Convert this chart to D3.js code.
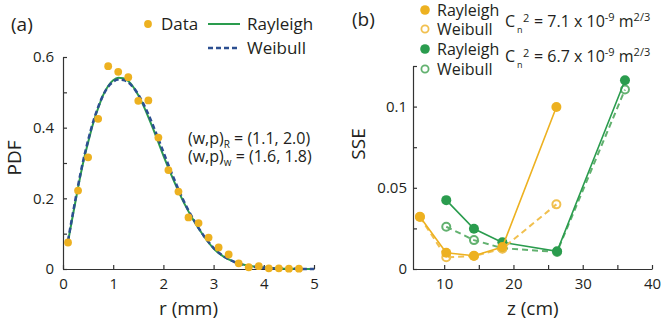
<!DOCTYPE html>
<html>
<head>
<meta charset="utf-8">
<script src="https://cdn.jsdelivr.net/npm/d3@7"></script>
<style>
  body { margin: 0; background: #fff; }
  svg text { font-family: "Open Sans", sans-serif; fill: #231f20; }
</style>
</head>
<body>
<div id="chart"></div>
<script>
// Panel (a): measured PDF and the two fits
const rData = [0.1, 0.3, 0.5, 0.7, 0.9, 1.1, 1.3, 1.5, 1.7, 1.9, 2.1, 2.3, 2.5, 2.7, 2.9, 3.1, 3.3, 3.5, 3.7, 3.9, 4.1, 4.3, 4.5, 4.7];
const pdfData = [0.075, 0.222, 0.316, 0.425, 0.574, 0.558, 0.543, 0.476, 0.477, 0.372, 0.280, 0.219, 0.146, 0.130, 0.089, 0.061, 0.041, 0.016, 0.005, 0.008, 0.002, 0.002, 0.001, 0.001];

const rFit = [0.1, 0.2, 0.3, 0.4, 0.5, 0.6, 0.7, 0.8, 0.9, 1.0, 1.1, 1.2, 1.3, 1.4, 1.5, 1.6, 1.7, 1.8, 1.9, 2.0, 2.2, 2.4, 2.6, 2.8, 3.0, 3.2, 3.4, 3.6, 3.8, 4.0, 4.3, 4.6, 5.0];
const rayleighFit = [0.077, 0.155, 0.230, 0.300, 0.358, 0.412, 0.455, 0.492, 0.518, 0.534, 0.541, 0.540, 0.532, 0.515, 0.492, 0.463, 0.430, 0.395, 0.358, 0.321, 0.252, 0.190, 0.138, 0.094, 0.058, 0.035, 0.021, 0.012, 0.007, 0.004, 0.0015, 0.0005, 0.0001];
const weibullFit = [0.080, 0.160, 0.236, 0.305, 0.364, 0.416, 0.458, 0.492, 0.516, 0.530, 0.536, 0.535, 0.528, 0.514, 0.494, 0.468, 0.438, 0.404, 0.368, 0.331, 0.259, 0.194, 0.140, 0.095, 0.060, 0.036, 0.021, 0.012, 0.0065, 0.0035, 0.0012, 0.0004, 0.0001];

// Panel (b): SSE vs z for two turbulence strengths
const zYellow = [6.5, 10.3, 14.3, 18.4, 26.2];
const sseYellowRayleigh = [0.0322, 0.0100, 0.0082, 0.0135, 0.0998];
const sseYellowWeibull = [0.0320, 0.0072, 0.0080, 0.0125, 0.0398];
const zGreen = [10.3, 14.3, 18.4, 26.3, 36.1];
const sseGreenRayleigh = [0.0424, 0.0248, 0.0164, 0.0109, 0.1162];
const sseGreenWeibull = [0.0260, 0.0178, 0.0128, 0.0105, 0.1105];

const yellow = "#edb120";
const yellowLight = "#f1c04f";
const green = "#2a9c4e";
const greenLight = "#62b16f";
const blue = "#2c4f91";
const axisCol = "#333";

const W = 661, H = 327;
const svg = d3.select("#chart").append("svg")
    .attr("width", W)
    .attr("height", H);

function styleAxis(g) {
    g.select(".domain").attr("stroke", axisCol).attr("stroke-width", 1.2);
    g.selectAll(".tick line").attr("stroke", axisCol).attr("stroke-width", 1.2);
    g.selectAll(".tick text").attr("font-size", 15).style("font-family", "'Open Sans', sans-serif").attr("fill", "#231f20");
}

// ##################################
// Panel (a)
// ##################################
const xA = d3.scaleLinear().domain([0, 5]).range([63, 314]);
const yA = d3.scaleLinear().domain([0, 0.6]).range([269, 57]);

svg.append("g")
    .attr("transform", `translate(${xA(0)},0)`)
    .call(d3.axisLeft(yA)
        .tickValues(d3.range(0, 0.61, 0.1))
        .tickFormat(d => (Math.round(d * 10) % 2 === 0) ? String(+d.toFixed(1)) : "")
        .tickSizeInner(-4).tickSizeOuter(0).tickPadding(9))
    .call(styleAxis);

svg.append("g")
    .attr("transform", `translate(0,${yA(0)})`)
    .call(d3.axisBottom(xA)
        .tickValues([0, 1, 2, 3, 4, 5])
        .tickFormat(d3.format("d"))
        .tickSizeInner(-4).tickSizeOuter(0).tickPadding(9))
    .call(styleAxis);

const lineA = (vals) => d3.line()
    .x((d, i) => xA(rFit[i]))
    .y(d => yA(d))
    .curve(d3.curveMonotoneX)(vals);

svg.append("path")
    .attr("d", lineA(rayleighFit))
    .attr("fill", "none")
    .attr("stroke", green)
    .attr("stroke-width", 2);

svg.append("path")
    .attr("d", lineA(weibullFit))
    .attr("fill", "none")
    .attr("stroke", blue)
    .attr("stroke-width", 2.5)
    .attr("stroke-dasharray", "5,3");

svg.append("g")
    .selectAll("circle")
    .data(rData)
    .join("circle")
        .attr("cx", d => xA(d))
        .attr("cy", (d, i) => yA(pdfData[i]))
        .attr("r", 3.9)
        .attr("fill", yellow);

svg.append("text").attr("x", 11).attr("y", 31).attr("font-size", 19).text("(a)");

svg.append("text")
    .attr("transform", "translate(21,158) rotate(-90)")
    .attr("text-anchor", "middle")
    .attr("font-size", 19)
    .text("PDF");

svg.append("text")
    .attr("x", xA(2.5)).attr("y", 315)
    .attr("text-anchor", "middle")
    .attr("font-size", 19)
    .text("r (mm)");

// legend (a)
svg.append("circle").attr("cx", 148).attr("cy", 24).attr("r", 3.9).attr("fill", yellow);
svg.append("text").attr("x", 161).attr("y", 30).attr("font-size", 17).text("Data");
svg.append("line").attr("x1", 208).attr("x2", 240).attr("y1", 24).attr("y2", 24)
    .attr("stroke", green).attr("stroke-width", 2);
svg.append("text").attr("x", 247).attr("y", 30).attr("font-size", 17).text("Rayleigh");
svg.append("line").attr("x1", 208).attr("x2", 240).attr("y1", 48).attr("y2", 48)
    .attr("stroke", blue).attr("stroke-width", 2.5).attr("stroke-dasharray", "5,3");
svg.append("text").attr("x", 247).attr("y", 54).attr("font-size", 17).text("Weibull");

// fit parameters
const annot = [["R", "(1.1, 2.0)", 144], ["w", "(1.6, 1.8)", 162]];
annot.forEach(a => {
    const t = svg.append("text").attr("x", 188).attr("y", a[2]).attr("font-size", 16);
    t.append("tspan").text("(w,p)");
    t.append("tspan").attr("dy", 4).attr("font-size", 10).text(a[0]);
    t.append("tspan").attr("dy", -4).text(" = " + a[1]);
});

// ##################################
// Panel (b)
// ##################################
const xB = d3.scaleLinear().domain([5.5, 40]).range([413, 652]);
const yB = d3.scaleLinear().domain([0, 0.125]).range([269, 66]);

svg.append("g")
    .attr("transform", `translate(${xB(5.5)},0)`)
    .call(d3.axisLeft(yB)
        .tickValues([0, 0.025, 0.05, 0.075, 0.1, 0.125])
        .tickFormat(d => ({0: "0", 0.05: "0.05", 0.1: "0.1"})[d] || "")
        .tickSizeInner(-4).tickSizeOuter(0).tickPadding(6))
    .call(styleAxis);

svg.append("g")
    .attr("transform", `translate(0,${yB(0)})`)
    .call(d3.axisBottom(xB)
        .tickValues([10, 15, 20, 25, 30, 35, 40])
        .tickFormat(d => d % 10 === 0 ? d : "")
        .tickSizeInner(-4).tickSizeOuter(0).tickPadding(9))
    .call(styleAxis);

const lineB = (zs, vals) => d3.line()
    .x((d, i) => xB(zs[i]))
    .y(d => yB(d))(vals);

const series = [
    {z: zGreen, v: sseGreenWeibull, col: greenLight, open: true},
    {z: zGreen, v: sseGreenRayleigh, col: green, open: false},
    {z: zYellow, v: sseYellowWeibull, col: yellowLight, open: true},
    {z: zYellow, v: sseYellowRayleigh, col: yellow, open: false}
];

series.forEach(s => {
    svg.append("path")
        .attr("d", lineB(s.z, s.v))
        .attr("fill", "none")
        .attr("stroke", s.col)
        .attr("stroke-width", s.open ? 2 : 1.6)
        .attr("stroke-dasharray", s.open ? "6,4" : null);
    svg.append("g")
        .selectAll("circle")
        .data(s.v)
        .join("circle")
            .attr("cx", (d, i) => xB(s.z[i]))
            .attr("cy", d => yB(d))
            .attr("r", s.open ? 4 : 5)
            .attr("fill", s.open ? "none" : s.col)
            .attr("stroke", s.col)
            .attr("stroke-width", s.open ? 2 : 0);
});

svg.append("text").attr("x", 352).attr("y", 26).attr("font-size", 19).text("(b)");

svg.append("text")
    .attr("transform", "translate(365,144) rotate(-90)")
    .attr("text-anchor", "middle")
    .attr("font-size", 19)
    .text("SSE");

svg.append("text")
    .attr("x", xB(22.5) + 2).attr("y", 315)
    .attr("text-anchor", "middle")
    .attr("font-size", 19)
    .text("z (cm)");

// legend (b)
const legB = [
    {y: 10, col: yellow, open: false, label: "Rayleigh"},
    {y: 29, col: yellowLight, open: true, label: "Weibull"},
    {y: 49, col: green, open: false, label: "Rayleigh"},
    {y: 69, col: greenLight, open: true, label: "Weibull"}
];
legB.forEach(l => {
    svg.append("circle")
        .attr("cx", 425).attr("cy", l.y)
        .attr("r", l.open ? 3.6 : 4.8)
        .attr("fill", l.open ? "none" : l.col)
        .attr("stroke", l.col)
        .attr("stroke-width", l.open ? 1.8 : 0);
    svg.append("text").attr("x", 437).attr("y", l.y + 5.5).attr("font-size", 16).text(l.label);
});

const cn = [["7.1", 27], ["6.7", 62]];
cn.forEach(c => {
    svg.append("text").attr("x", 505).attr("y", c[1]).attr("font-size", 16).text("C");
    svg.append("text").attr("x", 517).attr("y", c[1] + 6).attr("font-size", 9).text("n");
    svg.append("text").attr("x", 523).attr("y", c[1] - 5).attr("font-size", 11).text("2");
    const t = svg.append("text").attr("x", 534).attr("y", c[1]).attr("font-size", 16);
    t.append("tspan").text("= " + c[0] + " x 10");
    t.append("tspan").attr("dy", -6).attr("font-size", 11).text("-9");
    t.append("tspan").attr("dy", 6).text(" m");
    t.append("tspan").attr("dy", -6).attr("font-size", 11).text("2/3");
});
</script>
</body>
</html>
